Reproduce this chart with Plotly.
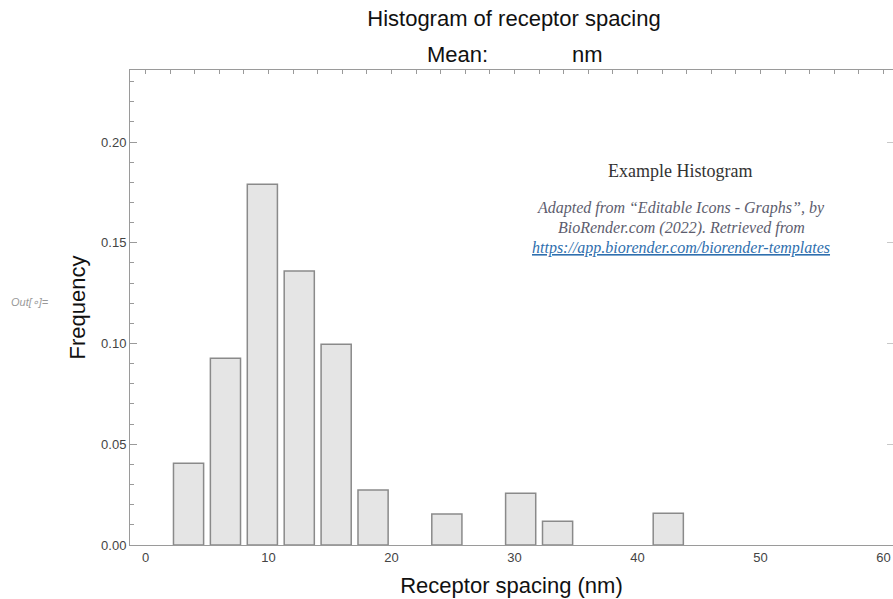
import plotly.graph_objects as go

# ---- data ----
bin_centers = [3.5, 6.5, 9.5, 12.5, 15.5, 18.5, 24.5, 30.5, 33.5, 42.5]
frequencies = [0.0406, 0.0927, 0.1791, 0.1360, 0.0997, 0.0273, 0.0154, 0.0257, 0.0118, 0.0157]
x_ticks = [0, 10, 20, 30, 40, 50, 60]
y_ticks = [0.00, 0.05, 0.10, 0.15, 0.20]
bar_width = 2.45

x_range = [-1.26, 60.77]
y_range = [0, 0.2358]

W, H = 893, 599
ML, MR, MT, MB = 130, 0, 70, 54

SANS = "Liberation Sans, Arial, Helvetica, sans-serif"
SERIF = "Liberation Serif, Times New Roman, serif"
AXIS_COLOR = "#9a9a9a"


def px(xp):
    return (xp - ML) / (W - ML - MR)


def py(yp):
    return (H - MB - yp) / (H - MT - MB)


fig = go.Figure()
fig.add_trace(go.Bar(
    x=bin_centers, y=frequencies, width=bar_width,
    marker=dict(color="#e5e5e5", line=dict(color="#8a8a8a", width=1.5)),
    showlegend=False, hoverinfo="x+y",
))
# invisible trace to bring the mirrored (top / right) frame axes to life
fig.add_trace(go.Scatter(x=[x_range[0]], y=[y_range[0]], xaxis="x2", yaxis="y2",
                         mode="markers", marker=dict(opacity=0), showlegend=False,
                         hoverinfo="skip"))

fig.update_layout(
    width=W, height=H,
    margin=dict(l=ML, r=MR, t=MT, b=MB),
    paper_bgcolor="white", plot_bgcolor="white",
    font=dict(family=SANS, color="#333"),
    title=dict(text="Histogram of receptor spacing", x=514 / W, xref="container",
               y=1 - 18 / H, yref="container", yanchor="middle", xanchor="center",
               font=dict(size=22, color="#111", family=SANS)),
    xaxis=dict(range=x_range, showline=True, linecolor=AXIS_COLOR, linewidth=1,
               tickvals=x_ticks, ticks="", showgrid=False, zeroline=False,
               tickfont=dict(size=13, color="#444"),
               title=dict(text="Receptor spacing (nm)", font=dict(size=22, color="#111"),
                          standoff=14)),
    xaxis2=dict(range=x_range, overlaying="x", side="top", showline=True,
                linecolor=AXIS_COLOR, linewidth=1, ticks="inside", tick0=0, dtick=2,
                ticklen=4, tickcolor=AXIS_COLOR, showticklabels=False, showgrid=False,
                zeroline=False),
    yaxis=dict(range=y_range, showline=True, linecolor=AXIS_COLOR, linewidth=1,
               tickmode="array", tickvals=y_ticks, tickformat=".2f",
               ticks="inside", ticklen=7, tickcolor=AXIS_COLOR,
               minor=dict(ticks="inside", tick0=0, dtick=0.01, ticklen=4,
                          tickcolor=AXIS_COLOR, showgrid=False),
               showgrid=False, zeroline=False,
               tickfont=dict(size=13, color="#444"),
               title=dict(text="Frequency", font=dict(size=22, color="#111"), standoff=9)),
    yaxis2=dict(range=y_range, overlaying="y", side="right", showline=False,
                tickmode="array", tickvals=y_ticks, ticks="inside", ticklen=6,
                tickcolor="#c8c8c8", showticklabels=False, showgrid=False, zeroline=False),
)

ann = []
# subtitle "Mean: ____ nm"
ann.append(dict(text="Mean:", x=px(457), y=py(55), xref="paper", yref="paper",
                showarrow=False, font=dict(size=22, color="#111", family=SANS),
                xanchor="center", yanchor="middle"))
ann.append(dict(text="nm", x=px(587), y=py(55), xref="paper", yref="paper",
                showarrow=False, font=dict(size=22, color="#111", family=SANS),
                xanchor="center", yanchor="middle"))
# Mathematica output label
ann.append(dict(text="<i>Out[∘]=</i>", x=px(30), y=py(302), xref="paper",
                yref="paper", showarrow=False, font=dict(size=11, color="#999", family=SANS),
                xanchor="center", yanchor="middle"))
# attribution block
ann.append(dict(text="Example Histogram", x=px(680), y=py(171), xref="paper",
                yref="paper", showarrow=False, font=dict(size=18, color="#333", family=SERIF),
                xanchor="center", yanchor="middle"))
ann.append(dict(text="<i>Adapted from “Editable Icons - Graphs”, by</i>", x=px(681),
                y=py(208), xref="paper", yref="paper", showarrow=False,
                font=dict(size=16, color="#5d5d6e", family=SERIF),
                xanchor="center", yanchor="middle"))
ann.append(dict(text="<i>BioRender.com (2022). Retrieved from</i>", x=px(681),
                y=py(228), xref="paper", yref="paper", showarrow=False,
                font=dict(size=16, color="#5d5d6e", family=SERIF),
                xanchor="center", yanchor="middle"))
ann.append(dict(text="<i><u>https://app.biorender.com/biorender-templates</u></i>",
                x=px(681), y=py(248), xref="paper", yref="paper", showarrow=False,
                font=dict(size=16, color="#2f6fae", family=SERIF),
                xanchor="center", yanchor="middle"))
fig.update_layout(annotations=ann)

fig.write_html("out.html", config={"displayModeBar": False},
               post_script="document.body.style.margin='0';document.body.style.overflow='hidden';")
